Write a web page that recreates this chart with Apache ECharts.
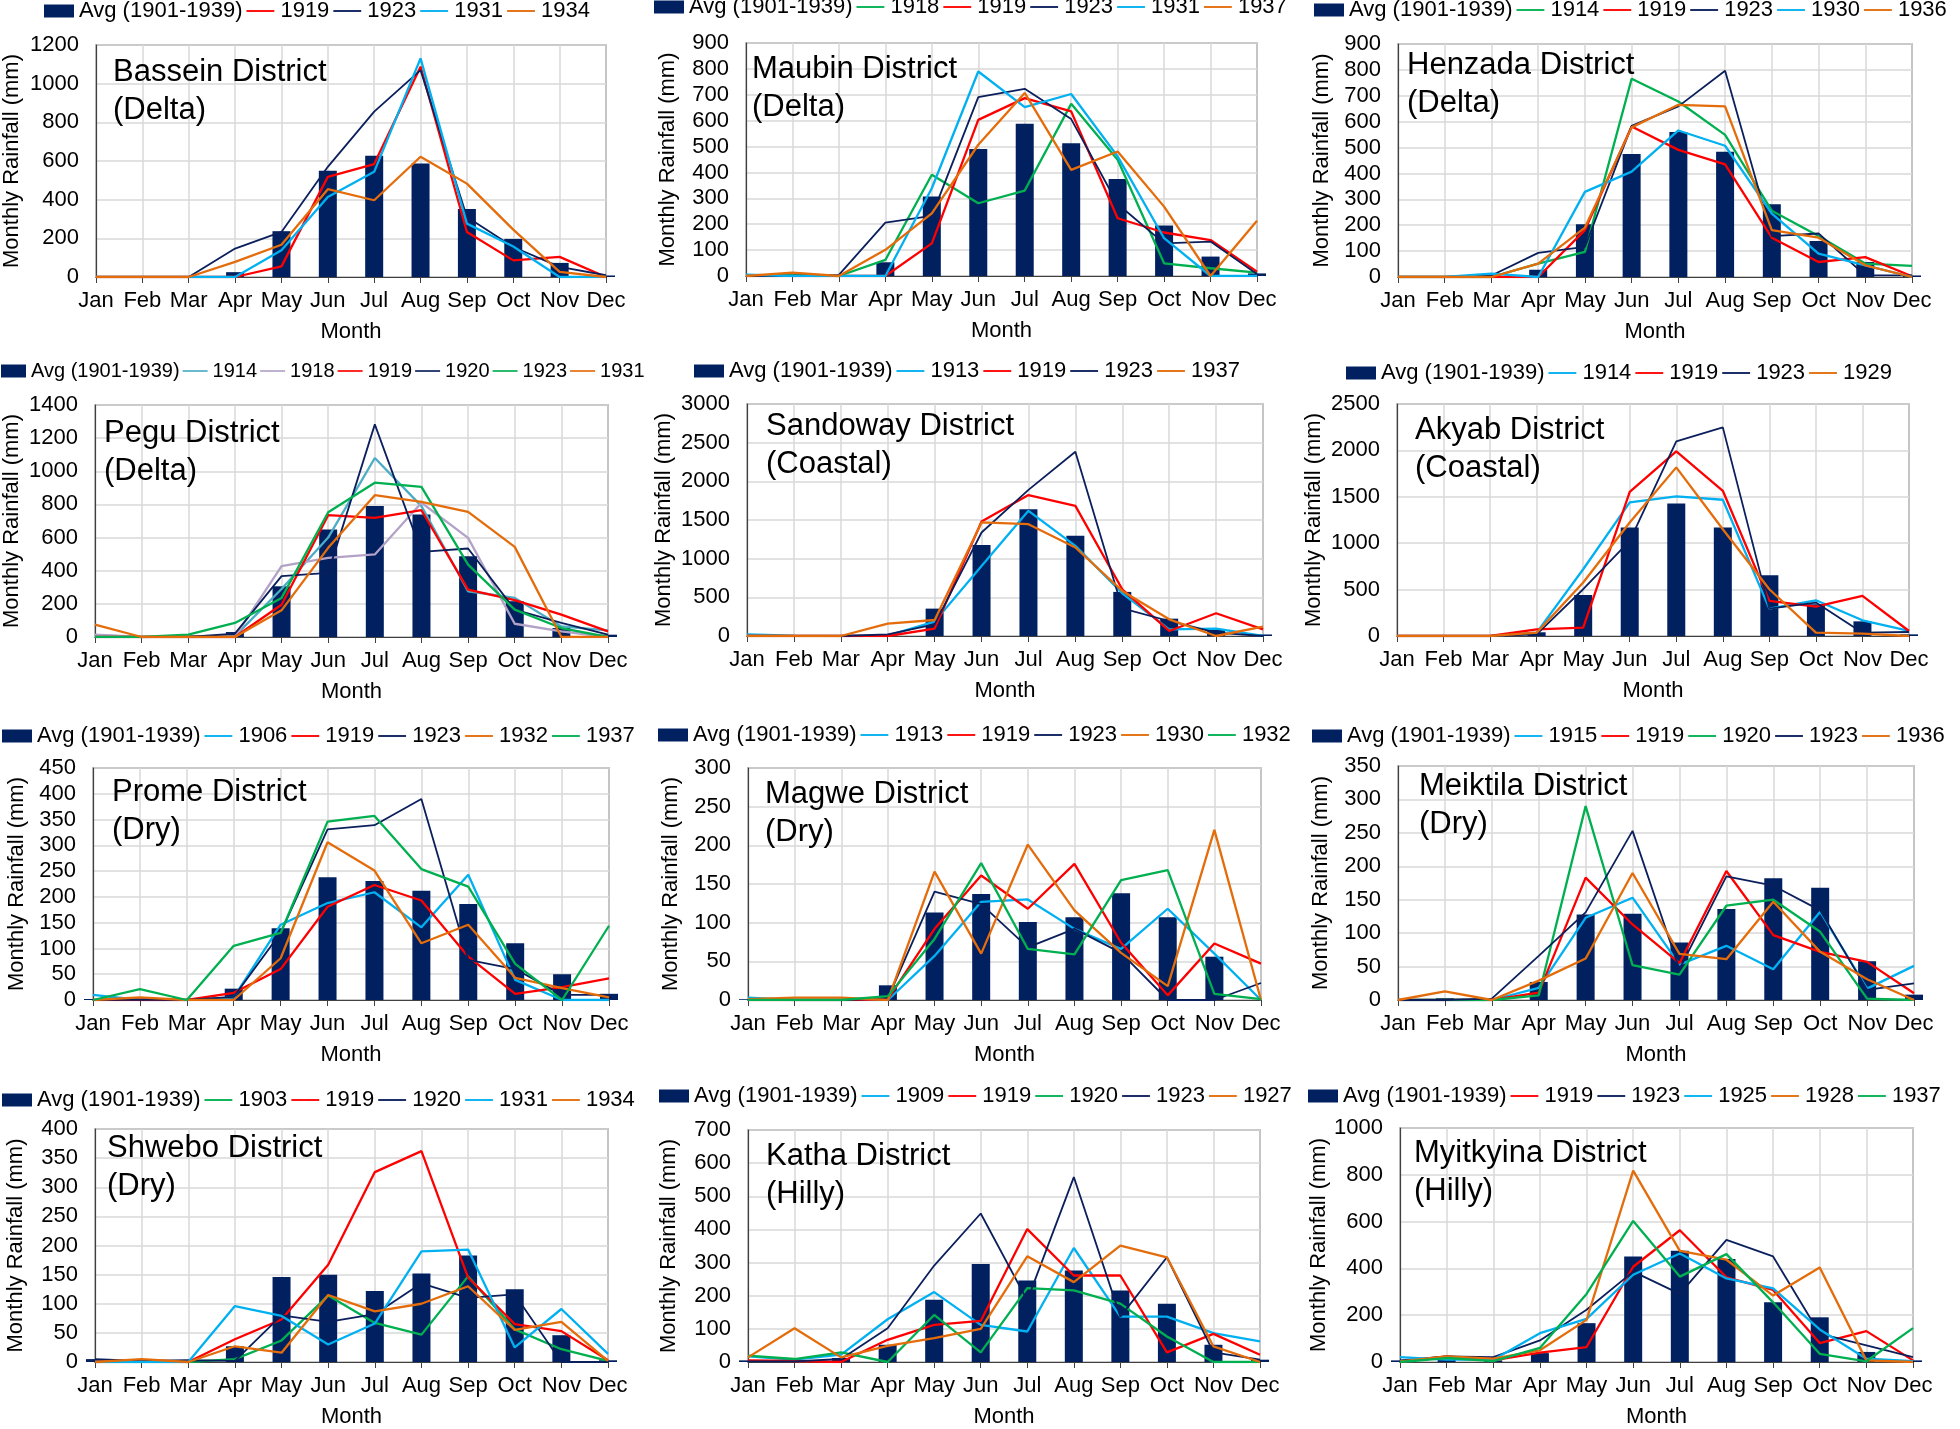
<!DOCTYPE html>
<html><head><meta charset="utf-8">
<script src="https://cdn.jsdelivr.net/npm/echarts@6/dist/echarts.min.js"></script>
<style>html,body{margin:0;padding:0;background:#fff;overflow:hidden}
#c{width:1960px;height:1429px}</style>
</head><body><div id="c"></div>
<script>
const months = ['Jan','Feb','Mar','Apr','May','Jun','Jul','Aug','Sep','Oct','Nov','Dec'];
const avgLabel = 'Avg (1901-1939)';

const bassein_avg  = [0,0,0,25,237,550,627,587,352,197,73,8];
const bassein_1919 = [0,0,0,0,55,518,584,1088,233,86,104,0];
const bassein_1923 = [0,0,0,147,233,570,855,1070,310,155,52,9];
const bassein_1931 = [0,0,0,0,138,414,544,1131,276,158,0,0];
const bassein_1934 = [0,0,0,78,167,454,397,622,483,245,26,0];

const maubin_avg  = [0,0,3,53,307,491,588,513,375,195,75,10];
const maubin_1918 = [0,5,0,62,391,281,330,665,449,49,30,13];
const maubin_1919 = [0,0,0,0,126,603,687,636,223,168,139,17];
const maubin_1923 = [0,0,4,206,232,691,723,606,278,126,133,8];
const maubin_1931 = [5,0,0,0,339,790,652,703,462,146,0,0];
const maubin_1937 = [0,13,0,101,242,507,707,410,481,268,0,213];

const henzada_avg  = [0,0,0,28,204,475,560,484,281,139,58,6];
const henzada_1914 = [0,0,0,52,97,766,678,549,256,158,52,43];
const henzada_1919 = [0,0,0,0,181,581,491,435,152,58,77,3];
const henzada_1923 = [0,0,6,93,116,584,659,797,158,168,6,6];
const henzada_1930 = [0,0,13,0,329,407,566,507,245,90,45,0];
const henzada_1936 = [0,0,0,52,191,578,665,659,181,152,45,0];

const pegu_avg  = [0,0,0,30,306,649,790,739,487,216,54,14];
const pegu_1914 = [10,0,5,5,290,600,1080,790,276,236,64,40];
const pegu_1918 = [14,0,0,0,427,477,498,810,598,80,34,0];
const pegu_1919 = [0,0,0,0,195,735,719,765,286,222,135,34];
const pegu_1920 = [0,0,0,20,367,387,1283,514,534,165,85,14];
const pegu_1923 = [0,0,14,85,236,753,931,906,437,165,54,0];
const pegu_1931 = [75,0,0,0,161,538,856,816,755,544,0,0];

const sandoway_avg  = [0,0,0,10,354,1178,1640,1295,570,224,78,20];
const sandoway_1913 = [20,5,0,5,186,906,1619,1165,552,86,95,0];
const sandoway_1919 = [0,0,0,0,95,1481,1822,1683,604,65,294,86];
const sandoway_1923 = [0,0,0,20,151,1338,1890,2383,358,194,43,0];
const sandoway_1937 = [0,0,0,160,207,1468,1446,1144,583,216,0,121];

const akyab_avg  = [0,0,0,40,442,1169,1428,1169,655,342,158,18];
const akyab_1914 = [0,0,0,36,719,1439,1504,1468,295,385,169,54];
const akyab_1919 = [0,0,0,72,90,1554,1989,1565,378,317,432,54];
const akyab_1923 = [0,0,0,18,504,1025,2097,2248,295,360,36,43];
const akyab_1929 = [0,0,0,36,576,1223,1817,1151,504,36,25,0];

const prome_avg  = [2,3,1,22,139,238,231,212,186,110,50,12];
const prome_1906 = [10,0,0,5,146,188,209,141,243,39,0,0];
const prome_1919 = [0,0,0,14,60,181,223,193,84,12,25,42];
const prome_1923 = [0,1,0,6,130,331,339,390,78,60,10,10];
const prome_1932 = [0,5,0,0,81,306,251,110,146,43,23,5];
const prome_1937 = [0,21,0,105,130,346,357,254,220,70,0,144];

const magwe_avg  = [1,1,1,19,113,137,101,107,138,107,56,0];
const magwe_1913 = [3,0,0,0,57,127,130,92,66,118,60,0];
const magwe_1919 = [0,0,0,1,92,161,118,176,74,6,73,47];
const magwe_1923 = [0,0,0,2,140,124,68,92,61,0,0,22];
const magwe_1930 = [1,3,3,0,166,60,201,116,61,18,220,0];
const magwe_1932 = [0,0,0,5,79,177,66,59,155,168,8,1];

const meiktila_avg  = [0,3,1,27,128,129,86,136,182,168,58,8];
const meiktila_1915 = [0,0,0,18,123,153,53,81,46,132,17,51];
const meiktila_1919 = [0,0,0,11,183,113,55,193,97,72,57,10];
const meiktila_1920 = [0,0,0,7,290,52,38,141,150,102,2,0];
const meiktila_1923 = [0,0,2,66,131,253,46,185,171,134,15,25];
const meiktila_1936 = [0,13,0,29,62,190,69,61,147,72,31,0];

const shwebo_avg  = [5,2,2,27,146,150,122,152,183,125,46,3];
const shwebo_1903 = [0,0,0,5,37,114,67,47,147,56,22,2];
const shwebo_1919 = [0,3,0,39,73,167,326,362,145,65,53,3];
const shwebo_1920 = [5,2,3,2,80,69,82,135,110,116,0,0];
const shwebo_1931 = [0,0,0,96,79,30,66,190,193,25,91,14];
const shwebo_1934 = [0,5,0,27,16,115,87,100,130,55,69,2];

const katha_avg  = [5,5,12,52,188,296,246,276,216,176,52,7];
const katha_1909 = [17,7,22,129,211,112,92,344,137,137,87,62];
const katha_1919 = [5,3,0,67,112,124,401,261,261,29,85,22];
const katha_1920 = [19,9,29,0,142,29,223,216,176,77,0,0];
const katha_1923 = [2,2,9,102,291,448,186,558,137,316,29,7];
const katha_1927 = [14,102,14,49,72,100,319,241,351,316,47,0];

const myitkyina_avg  = [7,10,7,38,166,451,475,440,255,191,43,7];
const myitkyina_1919 = [0,24,7,40,64,407,563,362,308,81,132,7];
const myitkyina_1923 = [7,24,21,92,223,386,291,522,451,121,71,21];
const myitkyina_1925 = [21,10,10,123,184,373,464,357,315,139,14,4];
const myitkyina_1928 = [3,24,14,50,180,818,475,437,284,404,7,0];
const myitkyina_1937 = [0,17,4,60,291,603,365,461,255,35,3,145];

// ---------- styling / layout ----------
const C = {navy:'#0a1f5c', bar:'#002060', red:'#FF0000', blue:'#00B0F0', orange:'#E46C0A',
           green:'#00B050', teal:'#4BACC6', lav:'#B3A2C7'};
const FONT = '"Liberation Sans",Arial,sans-serif';
const LINE_ICON = 'path://M0,0L0,0M0,6L30,6L30,8L0,8ZM30,14L30,14';

const panels = [
 {t:'Bassein District', r:'(Delta)', max:1200, step:200, avg:bassein_avg,
  lines:[['1919',bassein_1919,C.red],['1923',bassein_1923,C.navy],['1931',bassein_1931,C.blue],['1934',bassein_1934,C.orange]],
  g:[94,45,512,232], lg:[44,12], tp:[113,72], ng:73},
 {t:'Maubin District', r:'(Delta)', max:900, step:100, avg:maubin_avg,
  lines:[['1918',maubin_1918,C.green],['1919',maubin_1919,C.red],['1923',maubin_1923,C.navy],['1931',maubin_1931,C.blue],['1937',maubin_1937,C.orange]],
  g:[746,43,511,233], lg:[654,8], tp:[752,69], ng:67},
 {t:'Henzada District', r:'(Delta)', max:900, step:100, avg:henzada_avg,
  lines:[['1914',henzada_1914,C.green],['1919',henzada_1919,C.red],['1923',henzada_1923,C.navy],['1930',henzada_1930,C.blue],['1936',henzada_1936,C.orange]],
  g:[1398,44,514,233], lg:[1314,11], tp:[1407,65], ng:65},
 {t:'Pegu District', r:'(Delta)', max:1400, step:200, avg:pegu_avg,
  lines:[['1914',pegu_1914,C.teal],['1918',pegu_1918,C.lav],['1919',pegu_1919,C.red],['1920',pegu_1920,C.navy],['1923',pegu_1923,C.green],['1931',pegu_1931,C.orange]],
  g:[94,405,514,232], lg:[1,373], tp:[104,433], ng:72, lf:20, iw:25, ig:3},
 {t:'Sandoway District', r:'(Coastal)', max:3000, step:500, avg:sandoway_avg,
  lines:[['1913',sandoway_1913,C.blue],['1919',sandoway_1919,C.red],['1923',sandoway_1923,C.navy],['1937',sandoway_1937,C.orange]],
  g:[747,404,516,232], lg:[694,372], tp:[766,426], ng:72},
 {t:'Akyab District', r:'(Coastal)', max:2500, step:500, avg:akyab_avg,
  lines:[['1914',akyab_1914,C.blue],['1919',akyab_1919,C.red],['1923',akyab_1923,C.navy],['1929',akyab_1929,C.orange]],
  g:[1397,404,512,232], lg:[1346,374], tp:[1415,430], ng:72},
 {t:'Prome District', r:'(Dry)', max:450, step:50, avg:prome_avg,
  lines:[['1906',prome_1906,C.blue],['1919',prome_1919,C.red],['1923',prome_1923,C.navy],['1932',prome_1932,C.orange],['1937',prome_1937,C.green]],
  g:[93,768,516,232], lg:[2,737], tp:[112,792], ng:65},
 {t:'Magwe District', r:'(Dry)', max:300, step:50, avg:magwe_avg,
  lines:[['1913',magwe_1913,C.blue],['1919',magwe_1919,C.red],['1923',magwe_1923,C.navy],['1930',magwe_1930,C.orange],['1932',magwe_1932,C.green]],
  g:[748,768,513,232], lg:[658,736], tp:[765,794], ng:66},
 {t:'Meiktila District', r:'(Dry)', max:350, step:50, avg:meiktila_avg,
  lines:[['1915',meiktila_1915,C.blue],['1919',meiktila_1919,C.red],['1920',meiktila_1920,C.green],['1923',meiktila_1923,C.navy],['1936',meiktila_1936,C.orange]],
  g:[1398,766,516,234], lg:[1312,737], tp:[1419,786], ng:66},
 {t:'Shwebo District', r:'(Dry)', max:400, step:50, avg:shwebo_avg,
  lines:[['1903',shwebo_1903,C.green],['1919',shwebo_1919,C.red],['1920',shwebo_1920,C.navy],['1931',shwebo_1931,C.blue],['1934',shwebo_1934,C.orange]],
  g:[95,1129,513,233], lg:[2,1101], tp:[107,1148], ng:68},
 {t:'Katha District', r:'(Hilly)', max:700, step:100, avg:katha_avg,
  lines:[['1909',katha_1909,C.blue],['1919',katha_1919,C.red],['1920',katha_1920,C.green],['1923',katha_1923,C.navy],['1927',katha_1927,C.orange]],
  g:[748,1130,512,234], lg:[659,1097], tp:[766,1156], ng:68},
 {t:'Myitkyina District', r:'(Hilly)', max:1000, step:200, avg:myitkyina_avg,
  lines:[['1919',myitkyina_1919,C.red],['1923',myitkyina_1923,C.navy],['1925',myitkyina_1925,C.blue],['1928',myitkyina_1928,C.orange],['1937',myitkyina_1937,C.green]],
  g:[1400,1128,513,235], lg:[1308,1097], tp:[1414,1153], ng:70}
];

const option = {backgroundColor:'#fff', animation:false, grid:[], xAxis:[], yAxis:[], series:[], legend:[], title:[]};
const txt = {color:'#000', fontFamily:FONT, fontSize:22};
panels.forEach((p,i)=>{
  option.grid.push({left:p.g[0], top:p.g[1], width:p.g[2], height:p.g[3], show:true,
    borderColor:'#404040', borderWidth:1.2});
  option.xAxis.push({type:'category', gridIndex:i, data:months, boundaryGap:false,
    axisLine:{show:true, lineStyle:{color:'#404040', width:1.2}},
    axisTick:{show:true, length:6, lineStyle:{color:'#404040'}},
    axisLabel:Object.assign({interval:0, margin:13}, txt),
    splitLine:{show:true, lineStyle:{color:'#d9d9d9', width:1.5}},
    name:'Month', nameLocation:'middle', nameGap:44, nameTextStyle:txt});
  option.yAxis.push({type:'value', gridIndex:i, min:0, max:p.max, interval:p.step,
    axisLine:{show:true, lineStyle:{color:'#404040', width:1.2}}, axisTick:{show:false},
    axisLabel:Object.assign({margin:17, formatter:v=>String(v)}, txt),
    splitLine:{show:true, lineStyle:{color:'#d9d9d9', width:1.5}},
    name:'Monthly Rainfall (mm)', nameLocation:'middle', nameGap:p.ng,
    nameTextStyle:{color:'#000', fontFamily:FONT, fontSize:22}});
  const names = [];
  const bn = i+'|'+avgLabel;
  names.push({name:bn, icon:'rect', itemStyle:{borderWidth:0}});
  option.series.push({type:'bar', name:bn, xAxisIndex:i, yAxisIndex:i, data:p.avg,
    barWidth:18, itemStyle:{color:C.bar}, clip:true});
  p.lines.forEach(l=>{
    const n = i+'|'+l[0];
    names.push({name:n, icon:LINE_ICON, itemStyle:{color:l[2], borderWidth:0}});
    option.series.push({type:'line', name:n, xAxisIndex:i, yAxisIndex:i, data:l[1],
      symbol:'none', lineStyle:{color:l[2], width: l[2]===C.navy?1.8:2.3}, itemStyle:{color:l[2]}});
  });
  option.legend.push({left:p.lg[0], top:p.lg[1]-12, padding:0, itemGap:p.ig||4, itemWidth:p.iw||30, itemHeight:13,
    textStyle:Object.assign({}, txt, {fontSize:p.lf||22}), data:names, formatter:n=>n.split('|')[1]});
  option.title.push({text:p.t+'\n'+p.r, left:p.tp[0], top:p.tp[1]-19, padding:0,
    textStyle:{color:'#000', fontFamily:FONT, fontSize:31, fontWeight:'normal', lineHeight:38}});
});
const chart = echarts.init(document.getElementById('c'));
chart.setOption(option);
</script></body></html>
